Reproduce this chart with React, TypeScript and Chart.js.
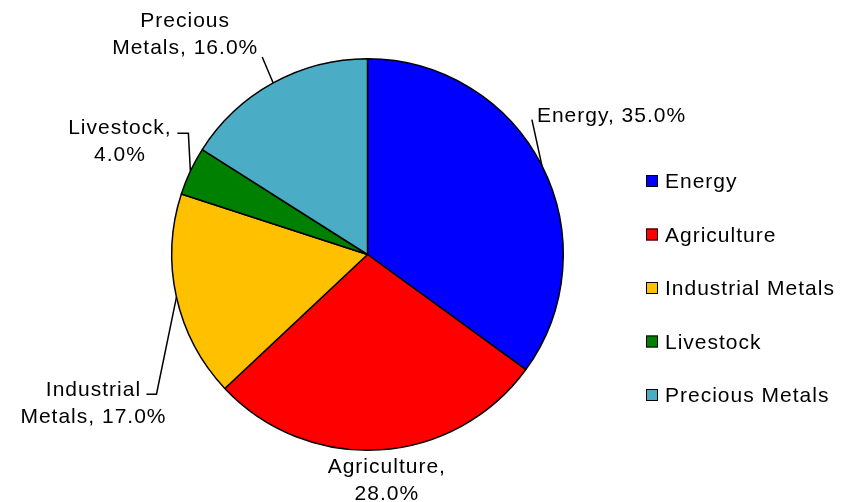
import React, { useEffect, useRef } from "react";
import { Chart, registerables } from "chart.js";

Chart.register(...registerables);

const categories: string[] = ["Energy", "Agriculture", "Industrial Metals", "Livestock", "Precious Metals"];
const shares: number[] = [35, 28, 17, 4, 16];
const sliceColors: string[] = ["#0000FF", "#FF0000", "#FFC000", "#008000", "#4BACC6"];

// label layout (offsets from the slice's outer mid-point), kept apart from the data
const labelLayout = [
  { leader: [[-10, -46]], text: [-5, -44], align: "left", wrap: false },
  { leader: [], text: [7, 23], align: "center", wrap: true },
  { leader: [[-20, 97], [-30, 97]], text: [-83, 99], align: "center", wrap: true },
  { leader: [[-2, -38], [-13, -38]], text: [-70.5, -37.5], align: "center", wrap: true },
  { leader: [[-11, -26]], text: [-88, -56], align: "center", wrap: true },
];

const FONT = '21px "Liberation Sans", Arial, sans-serif';
const LINE_H = 27;

const labelPlugin = {
  id: "labelsAndLegend",
  afterDraw(chart: any) {
    const ctx = chart.ctx as CanvasRenderingContext2D;
    const meta = chart.getDatasetMeta(0);
    const total = shares.reduce((a, b) => a + b, 0);
    ctx.save();
    ctx.font = FONT;
    (ctx as any).letterSpacing = "1px";
    ctx.fillStyle = "#000";
    ctx.strokeStyle = "#000";
    ctx.lineWidth = 1.5;
    meta.data.forEach((arc: any, i: number) => {
      const { x, y, startAngle, endAngle, outerRadius } = arc.getProps(
        ["x", "y", "startAngle", "endAngle", "outerRadius"],
        true
      );
      const mid = (startAngle + endAngle) / 2;
      const ex = x + outerRadius * Math.cos(mid);
      const ey = y + outerRadius * Math.sin(mid);
      const lay = labelLayout[i];
      if (lay.leader.length) {
        ctx.beginPath();
        ctx.moveTo(ex, ey);
        lay.leader.forEach((p) => ctx.lineTo(ex + p[0], ey + p[1]));
        ctx.stroke();
      }
      const full = `${categories[i]}, ${((shares[i] / total) * 100).toFixed(1)}%`;
      let lines = [full];
      if (lay.wrap) {
        const k = full.indexOf(" ");
        lines = [full.slice(0, k), full.slice(k + 1)];
      }
      ctx.textAlign = lay.align as CanvasTextAlign;
      ctx.textBaseline = "alphabetic";
      lines.forEach((ln, j) => {
        ctx.fillText(ln, ex + lay.text[0], ey + lay.text[1] + j * LINE_H);
      });
    });

    // legend
    const lx = 646;
    const top = 181;
    const step = 53.5;
    ctx.textAlign = "left";
    ctx.lineWidth = 1;
    categories.forEach((c, i) => {
      const cy = top + i * step;
      ctx.fillStyle = sliceColors[i];
      ctx.fillRect(lx, cy - 6, 12, 12);
      ctx.strokeStyle = "#000";
      ctx.strokeRect(lx + 0.5, cy - 5.5, 11, 11);
      ctx.fillStyle = "#000";
      ctx.fillText(c, 665, cy + 7);
    });
    ctx.restore();
  },
};

export default function App() {
  const ref = useRef<HTMLCanvasElement | null>(null);
  useEffect(() => {
    if (!ref.current) return;
    const chart = new Chart(ref.current, {
      type: "pie",
      data: {
        labels: categories,
        datasets: [
          {
            data: shares,
            backgroundColor: sliceColors,
            borderColor: "#000000",
            borderWidth: 1.5,
          },
        ],
      },
      options: {
        responsive: false,
        animation: false,
        events: [],
        layout: { padding: { left: 171, right: 290, top: 58, bottom: 51 } },
        plugins: {
          legend: { display: false },
          tooltip: { enabled: false },
        },
      },
      plugins: [labelPlugin],
    });
    return () => chart.destroy();
  }, []);
  return (
    <div style={{ position: "fixed", left: 0, top: 0, width: 854, height: 502, background: "#fff" }}>
      <canvas ref={ref} width={854} height={502} style={{ width: 854, height: 502 }} />
    </div>
  );
}
